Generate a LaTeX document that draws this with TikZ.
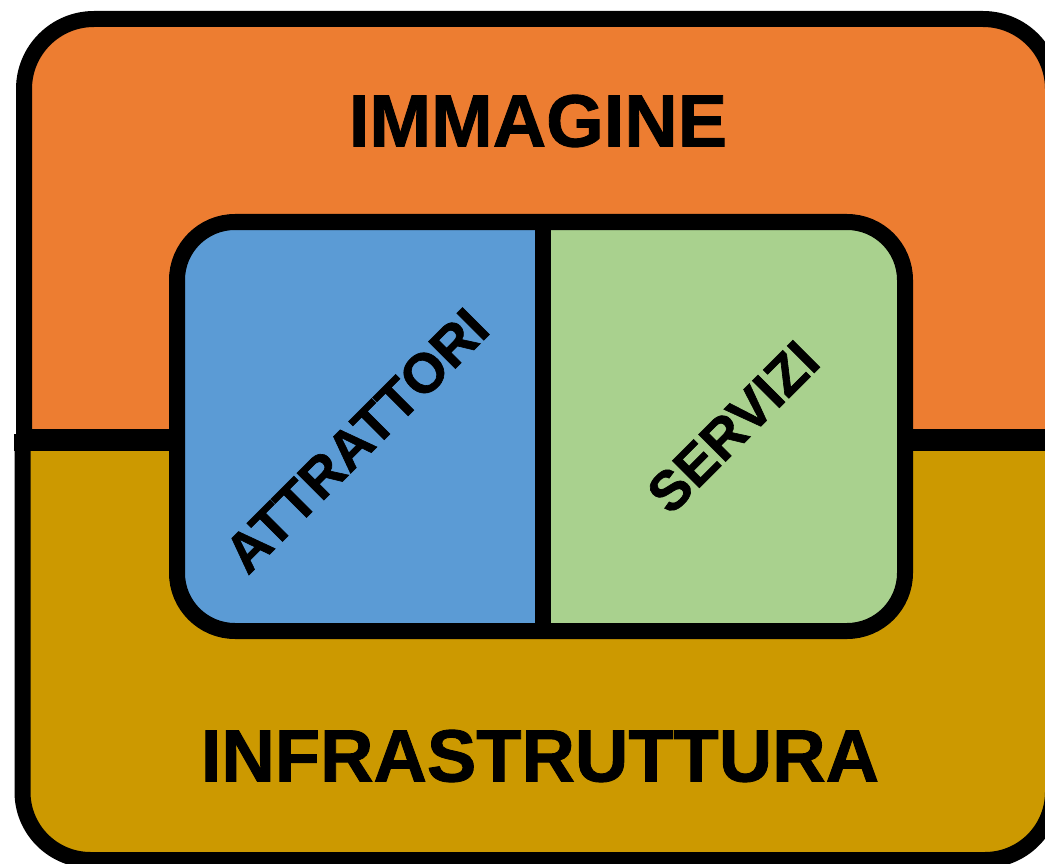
\documentclass[tikz,border=0pt]{standalone}
\usepackage{fontspec}
\setmainfont{Liberation Sans}
\newfontfamily\heavy[FakeBold=1.2]{Liberation Sans Bold}
\definecolor{orangeC}{HTML}{ED7D31}
\definecolor{goldC}{HTML}{CC9900}
\definecolor{blueC}{HTML}{5B9BD5}
\definecolor{greenC}{HTML}{A9D18E}
\tikzset{
  panel/.style={line width=16pt,draw=black,line join=round},
  rule/.style={draw=black,line width=16pt},
  big/.style={font=\fontsize{74}{80}\heavy,inner sep=0pt,text=black},
  tilted/.style={font=\fontsize{55.5}{62}\heavy,inner sep=0pt,text=black,rotate=45}
}
\begin{document}
\begin{tikzpicture}[x=1pt,y=-1pt]
\useasboundingbox (0,0) rectangle (1045,864);
\clip (0,0) rectangle (1045,864);
% outer panels
\draw[panel,fill=orangeC,rounded corners=70pt] (24,440) -- (24,19) -- (1053,19) -- (1053,440);
\draw[panel,fill=goldC,rounded corners=68pt] (22.5,440) -- (22.5,860) -- (1053,860) -- (1053,440);
% horizontal band
\fill[black] (14,434) rectangle (32,451);
\fill[black] (16,429) rectangle (1045,451);
% inner box
\fill[blueC,rounded corners=58pt] (543,222) -- (177,222) -- (177,631) -- (543,631) -- cycle;
\fill[greenC,rounded corners=58pt] (543,222) -- (905,222) -- (905,631) -- (543,631) -- cycle;
\fill[blueC] (400,222) rectangle (543,631);
\fill[greenC] (543,222) rectangle (700,631);
\draw[panel,rounded corners=58pt] (177,222) rectangle (905,631);
\draw[rule] (543,222) -- (543,631);
% labels
\node[big] (immagine) at (538,121) {IMMAGINE};
\node[big] (infra) at (540,756) {INFRASTRUTTURA};
\node[tilted] (attr) at (356.5,440.5) {ATTRATTORI};
\node[tilted] (serv) at (733,427) {SERVIZI};
\end{tikzpicture}
\end{document}
